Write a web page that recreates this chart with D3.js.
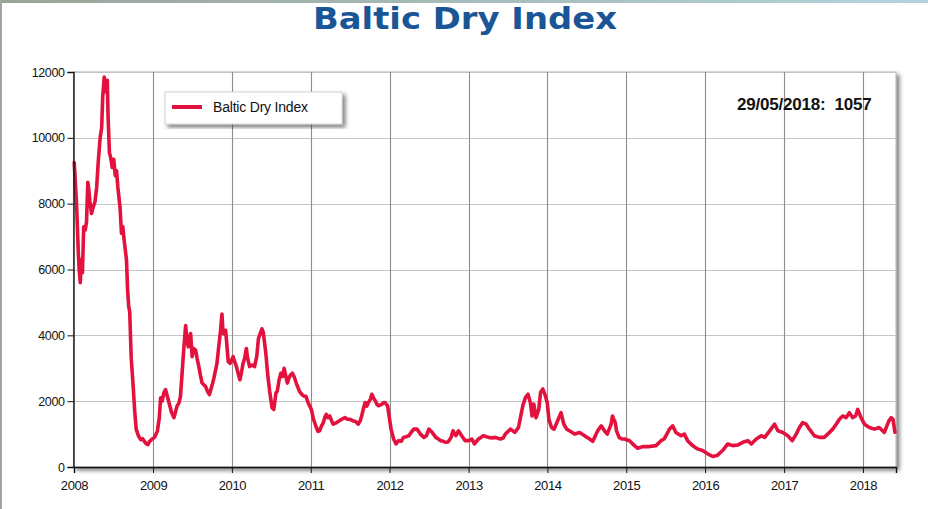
<!DOCTYPE html>
<html><head><meta charset="utf-8">
<script src="https://cdn.jsdelivr.net/npm/d3@7"></script>
<style>
html,body{margin:0;padding:0;background:#fff;}
svg{display:block;}
</style></head>
<body>
<svg id="chart" width="928" height="509"></svg>
<script>
const titleText = "Baltic Dry Index";
const legendLabel = "Baltic Dry Index";
const lastLabel = "29/05/2018:  1057";
const yTicks = [0, 2000, 4000, 6000, 8000, 10000, 12000];
const yearTicks = [2008, 2009, 2010, 2011, 2012, 2013, 2014, 2015, 2016, 2017, 2018];

const dates = [
"2008-01-02","2008-01-07","2008-01-14","2008-01-21","2008-01-25","2008-01-30","2008-02-04","2008-02-09","2008-02-15","2008-02-22","2008-02-28",
"2008-03-05","2008-03-10","2008-03-14","2008-03-22","2008-03-30","2008-04-07","2008-04-15","2008-04-22","2008-05-01","2008-05-08","2008-05-13",
"2008-05-20","2008-05-25","2008-05-29","2008-06-03","2008-06-07","2008-06-13","2008-06-19","2008-06-26","2008-07-03","2008-07-10","2008-07-16",
"2008-07-22","2008-08-01","2008-08-08","2008-08-14","2008-08-20","2008-08-31","2008-09-05","2008-09-10","2008-09-15","2008-09-22","2008-10-01",
"2008-10-08","2008-10-15","2008-10-25","2008-11-05","2008-11-13","2008-11-22","2008-12-01","2008-12-08","2008-12-15","2008-12-28",
"2009-01-08","2009-01-21","2009-01-30","2009-02-05","2009-02-12","2009-02-20","2009-02-28","2009-03-08","2009-03-16","2009-03-28","2009-04-08",
"2009-04-16","2009-04-22","2009-05-01","2009-05-08","2009-05-16","2009-05-24","2009-06-01","2009-06-06","2009-06-13","2009-06-18","2009-06-24",
"2009-07-01","2009-07-08","2009-07-17","2009-07-24","2009-08-01","2009-08-08","2009-08-16","2009-08-24","2009-09-01","2009-09-10","2009-09-19",
"2009-09-30","2009-10-08","2009-10-16","2009-10-24","2009-11-01","2009-11-09","2009-11-16","2009-11-20","2009-11-24","2009-12-03","2009-12-09",
"2009-12-15","2009-12-24",
"2010-01-07","2010-01-14","2010-01-22","2010-01-30","2010-02-07","2010-02-15","2010-02-22","2010-03-01","2010-03-09","2010-03-15","2010-03-24",
"2010-04-05","2010-04-16","2010-04-26","2010-05-04","2010-05-12","2010-05-20","2010-05-26","2010-06-01","2010-06-08","2010-06-16","2010-06-25",
"2010-07-06","2010-07-14","2010-07-24","2010-07-30","2010-08-08","2010-08-16","2010-08-24","2010-08-31","2010-09-08","2010-09-15","2010-09-22",
"2010-09-30","2010-10-08","2010-10-16","2010-10-26","2010-11-10","2010-11-22","2010-12-01","2010-12-10","2010-12-20",
"2011-01-04","2011-01-14","2011-01-27","2011-02-04","2011-02-11","2011-02-20","2011-02-27","2011-03-07","2011-03-14","2011-03-22","2011-03-30",
"2011-04-08","2011-04-15","2011-05-01","2011-05-12","2011-05-24","2011-06-08","2011-06-20","2011-07-02","2011-07-17","2011-07-28","2011-08-09",
"2011-08-18","2011-08-25","2011-09-03","2011-09-10","2011-09-18","2011-09-25","2011-10-04","2011-10-11","2011-10-19","2011-10-27","2011-11-04",
"2011-11-11","2011-11-27","2011-12-05","2011-12-12","2011-12-23",
"2012-01-08","2012-01-20","2012-01-31","2012-02-12","2012-02-24","2012-03-06","2012-03-18","2012-03-30","2012-04-10","2012-04-22","2012-05-07",
"2012-05-23","2012-06-08","2012-06-20","2012-07-01","2012-07-09","2012-07-17","2012-08-02","2012-08-14","2012-08-25","2012-09-06","2012-09-17",
"2012-09-28","2012-10-12","2012-10-21","2012-11-03","2012-11-15","2012-11-30","2012-12-16",
"2013-01-01","2013-01-16","2013-01-28","2013-02-16","2013-03-11","2013-04-03","2013-04-20","2013-05-04","2013-05-28","2013-06-10","2013-06-20",
"2013-07-14","2013-08-03","2013-08-20","2013-09-09","2013-09-21","2013-10-03","2013-10-14","2013-10-22","2013-10-30","2013-11-09","2013-11-22",
"2013-11-30","2013-12-11","2013-12-23","2013-12-31",
"2014-01-08","2014-01-20","2014-02-01","2014-02-20","2014-03-05","2014-03-18","2014-03-31","2014-04-13","2014-05-07","2014-05-30","2014-06-22",
"2014-07-15","2014-07-30","2014-08-22","2014-09-07","2014-09-22","2014-10-05","2014-10-23","2014-10-29","2014-11-04","2014-11-11","2014-11-17",
"2014-11-29","2014-12-12","2014-12-24",
"2015-01-16","2015-02-08","2015-02-23","2015-03-18","2015-04-18","2015-05-19","2015-06-11","2015-06-25","2015-07-04","2015-07-20","2015-08-04",
"2015-08-19","2015-09-12","2015-09-27","2015-10-12","2015-11-04","2015-11-27","2015-12-20",
"2016-01-13","2016-02-05","2016-02-28","2016-03-22","2016-04-15","2016-05-08","2016-06-01","2016-06-24","2016-07-17","2016-08-02","2016-08-25",
"2016-09-17","2016-10-03","2016-10-26","2016-11-18","2016-12-03","2016-12-26",
"2017-01-18","2017-02-08","2017-02-26","2017-03-13","2017-03-28","2017-04-13","2017-04-28","2017-05-21","2017-06-13","2017-07-06","2017-07-22",
"2017-08-14","2017-08-30","2017-09-14","2017-09-29","2017-10-15","2017-10-30","2017-11-14","2017-11-28","2017-12-08","2017-12-23",
"2018-01-08","2018-01-31","2018-02-23","2018-03-17","2018-04-10","2018-05-01","2018-05-12","2018-05-20","2018-05-29"
];

const bdi = [
9250,8700,7800,6500,6000,5600,6300,5900,7300,7200,7450,
8650,8400,8100,7700,7900,8050,8500,9250,10000,10300,11250,
11850,11400,11600,11750,10600,9550,9400,9100,9350,8850,9000,
8500,7900,7100,7300,6900,6300,5400,4900,4700,3300,2450,
1700,1150,950,830,860,780,700,680,770,850,
900,1090,1500,2100,2000,2250,2350,2150,1950,1650,1500,
1700,1850,1950,2150,2900,3650,4300,3900,3650,3950,4050,
3350,3600,3550,3300,3050,2800,2550,2500,2450,2300,2200,
2450,2650,2900,3150,3650,4100,4650,4200,4050,4150,3700,
3200,3150,
3350,3200,3050,2850,2650,2900,3150,3300,3600,3300,3050,
3100,3050,3350,3900,4050,4200,4100,3800,3400,2800,2300,
1800,1750,2250,2300,2650,2850,2750,3000,2750,2550,2700,
2800,2850,2750,2550,2300,2200,2150,2150,1950,
1750,1450,1200,1080,1100,1250,1320,1500,1600,1500,1550,
1400,1300,1350,1400,1450,1500,1450,1450,1400,1380,1300,
1400,1550,1800,1960,1850,1960,2050,2210,2100,2010,1900,
1860,1910,1960,1950,1860,
1150,850,700,800,780,900,920,950,1050,1150,1150,
1000,900,950,1150,1100,1050,900,850,800,780,750,
760,900,1100,950,1100,950,800,
800,850,700,850,950,900,880,900,850,880,1000,
1150,1050,1200,1860,2110,2210,1960,1550,1910,1500,1750,
2260,2370,2150,1960,
1450,1200,1150,1450,1650,1300,1150,1100,1000,1050,950,
850,780,1100,1250,1100,1000,1300,1550,1450,1350,1100,
900,850,850,
800,650,570,620,620,650,800,850,950,1150,1250,
1050,950,1000,800,650,550,500,
400,320,360,500,700,650,670,750,800,700,850,
950,900,1100,1300,1100,1050,
950,800,1000,1200,1350,1300,1150,950,900,900,1000,
1150,1300,1450,1550,1500,1650,1500,1550,1750,1500,
1300,1200,1150,1200,1050,1400,1500,1450,1057
];

const parse = d3.timeParse("%Y-%m-%d");
const series = dates.map((d, i) => ({ date: parse(d), value: bdi[i] }));

const svg = d3.select("#chart");
const L = 73.5, R = 896, T = 72, B = 467;

const x = d3.scaleTime()
  .domain([new Date(2008, 0, 1), new Date(2018, 5, 3)])
  .range([74, 896]);
const y = d3.scaleLinear().domain([0, 12000]).range([B, T]);

const defs = svg.append("defs");
const grad = defs.append("linearGradient").attr("id", "topband");
grad.append("stop").attr("offset", "0%").attr("stop-color", "#9aa398");
grad.append("stop").attr("offset", "100%").attr("stop-color", "#b4d4dc");
const sh = defs.append("filter").attr("id", "shadow")
  .attr("x", "-5%").attr("y", "-5%").attr("width", "115%").attr("height", "120%");
sh.append("feDropShadow").attr("dx", 3).attr("dy", 3).attr("stdDeviation", 2)
  .attr("flood-color", "#000").attr("flood-opacity", 0.5);

// page decorations
svg.append("rect").attr("x", 0).attr("y", 0).attr("width", 928).attr("height", 3).attr("fill", "url(#topband)");
svg.append("rect").attr("x", 0).attr("y", 0).attr("width", 2).attr("height", 509).attr("fill", "#a3a3a3");

// title
svg.append("text").attr("x", 465).attr("y", 29)
  .attr("text-anchor", "middle")
  .attr("font-family", "'DejaVu Sans', Verdana, sans-serif")
  .attr("font-weight", "bold").attr("font-size", 30)
  .attr("fill", "#1a5596")
  .attr("textLength", 304).attr("lengthAdjust", "spacingAndGlyphs")
  .text(titleText);

// plot frame with shadow
svg.append("rect").attr("x", L).attr("y", T).attr("width", R - L).attr("height", B - T)
  .attr("fill", "#fff").attr("stroke", "#b0b0b0").attr("stroke-width", 1)
  .attr("filter", "url(#shadow)");

// horizontal grid
svg.append("g").selectAll("line").data(yTicks.filter(v => v > 0)).join("line")
  .attr("x1", L).attr("x2", R)
  .attr("y1", d => Math.round(y(d)) + 0.5).attr("y2", d => Math.round(y(d)) + 0.5)
  .attr("stroke", "#c4c4c4").attr("stroke-width", 1.2);

// vertical grid
svg.append("g").selectAll("line").data(yearTicks.slice(1)).join("line")
  .attr("x1", d => Math.round(x(new Date(d, 0, 1))) + 0.5)
  .attr("x2", d => Math.round(x(new Date(d, 0, 1))) + 0.5)
  .attr("y1", T).attr("y2", B)
  .attr("stroke", "#8c8c8c").attr("stroke-width", 1.1);

// data line
const line = d3.line().x(d => x(d.date)).y(d => y(d.value)).curve(d3.curveLinear);
svg.append("path").datum(series)
  .attr("d", line)
  .attr("fill", "none").attr("stroke", "#e2113d").attr("stroke-width", 3.6)
  .attr("stroke-linejoin", "round").attr("stroke-linecap", "round");

// axes
const yAxis = d3.axisLeft(y).tickValues(yTicks).tickSize(6).tickPadding(3).tickFormat(d3.format("d"));
const gy = svg.append("g").attr("transform", `translate(${L},0)`).call(yAxis);
gy.select(".domain").attr("stroke", "#111").attr("stroke-width", 1.4);
gy.selectAll(".tick line").attr("stroke", "#111");
gy.selectAll("text").attr("font-family", "'Liberation Sans', Arial, sans-serif")
  .attr("font-size", 12.5).attr("fill", "#111").attr("letter-spacing", "-0.4");

const xAxis = d3.axisBottom(x).tickValues(yearTicks.map(d => new Date(d, 0, 1)))
  .tickSize(6).tickPadding(8).tickFormat(d3.timeFormat("%Y"));
const gx = svg.append("g").attr("transform", `translate(0,${B})`).call(xAxis);
gx.select(".domain").attr("stroke", "#111").attr("stroke-width", 1.4);
gx.selectAll(".tick line").attr("stroke", "#111");
gx.selectAll("text").attr("font-family", "'Liberation Sans', Arial, sans-serif")
  .attr("font-size", 13).attr("fill", "#111").attr("letter-spacing", "-0.4");

// legend
const lg = svg.append("g");
lg.append("rect").attr("x", 165).attr("y", 92).attr("width", 177).attr("height", 32)
  .attr("fill", "#fff").attr("stroke", "#d0d0d0").attr("filter", "url(#shadow)");
lg.append("line").attr("x1", 172).attr("x2", 202).attr("y1", 107).attr("y2", 107)
  .attr("stroke", "#e2113d").attr("stroke-width", 4);
lg.append("text").attr("x", 213).attr("y", 112)
  .attr("font-family", "'Liberation Sans', Arial, sans-serif")
  .attr("font-size", 14).attr("fill", "#111").attr("letter-spacing", "-0.2")
  .text(legendLabel);

// last value annotation
svg.append("text").attr("x", 737).attr("y", 110)
  .attr("font-family", "'Liberation Sans', Arial, sans-serif")
  .attr("font-weight", "bold").attr("font-size", 17).attr("fill", "#111")
  .attr("letter-spacing", "-0.2").attr("xml:space", "preserve")
  .style("white-space", "pre")
  .text(lastLabel);
</script>
</body></html>
